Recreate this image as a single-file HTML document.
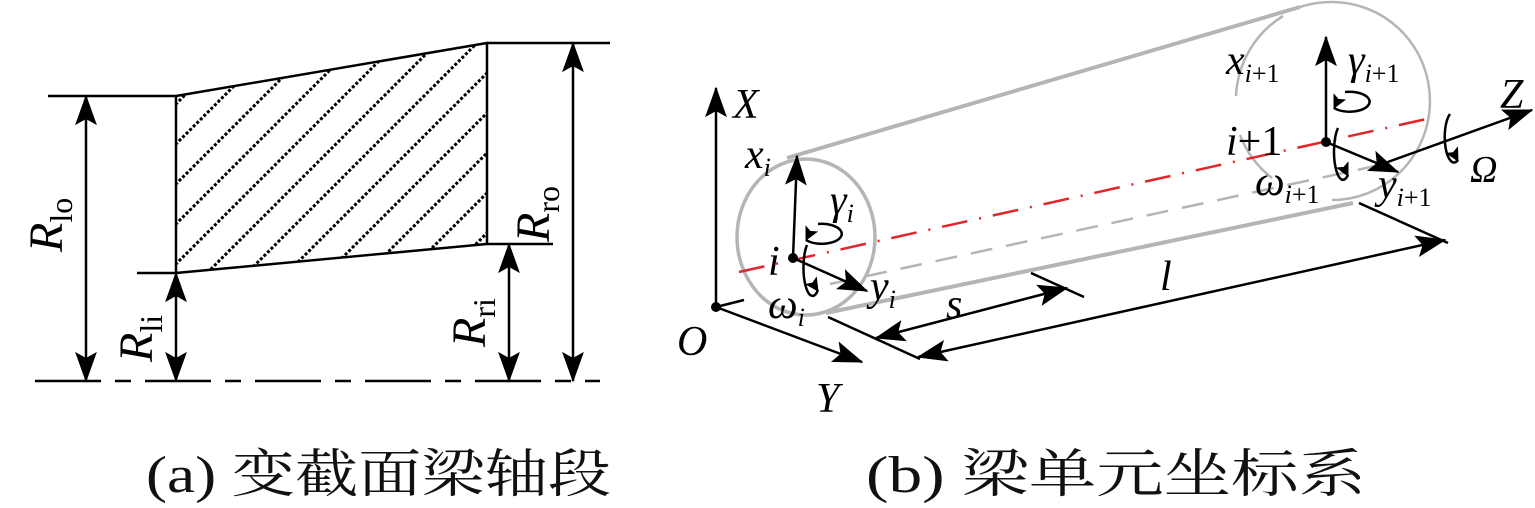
<!DOCTYPE html>
<html><head><meta charset="utf-8"><style>
html,body{margin:0;padding:0;background:#fff;}
svg{display:block;}
.t{font-family:"Liberation Serif","Noto Serif CJK SC",serif;font-style:italic;fill:#000;}
.c{font-family:"Liberation Serif","Noto Serif CJK SC",serif;fill:#111;}
</style></head><body>
<svg id="sv" width="1535" height="508" viewBox="0 0 1535 508" xmlns="http://www.w3.org/2000/svg">
<defs>
<clipPath id="tz"><polygon points="176,96 487,43 487,244 176,273"/></clipPath>
</defs>

<g clip-path="url(#tz)" stroke="#000" stroke-width="3" stroke-dasharray="3,2">
<line x1="140" y1="140" x2="260" y2="20"/>
<line x1="140" y1="180" x2="300" y2="20"/>
<line x1="140" y1="220" x2="340" y2="20"/>
<line x1="140" y1="260" x2="380" y2="20"/>
<line x1="140" y1="300" x2="420" y2="20"/>
<line x1="140" y1="340" x2="460" y2="20"/>
<line x1="140" y1="380" x2="500" y2="20"/>
<line x1="160" y1="400" x2="540" y2="20"/>
<line x1="200" y1="400" x2="580" y2="20"/>
<line x1="240" y1="400" x2="620" y2="20"/>
<line x1="280" y1="400" x2="660" y2="20"/>
<line x1="320" y1="400" x2="700" y2="20"/>
<line x1="360" y1="400" x2="740" y2="20"/>
<line x1="400" y1="400" x2="780" y2="20"/>
<line x1="440" y1="400" x2="820" y2="20"/>
</g>
<g stroke="#000" stroke-width="2.5" fill="none">
<polygon points="176,96 487,43 487,244 176,273"/>
<line x1="48" y1="96" x2="176" y2="96"/>
<line x1="487" y1="43" x2="610" y2="43"/>
<line x1="137" y1="273" x2="176" y2="273"/>
<line x1="487" y1="244" x2="553" y2="244"/>
<line x1="35" y1="381" x2="600" y2="381" stroke-dasharray="66,14,16,14"/>
</g>
<g class="t" font-size="48">
<text transform="translate(62,252) rotate(-90)">R<tspan font-style="normal" font-size="32" dy="10">lo</tspan></text>
<text transform="translate(152,362) rotate(-90)">R<tspan font-style="normal" font-size="32" dy="10">li</tspan></text>
<text transform="translate(485,347) rotate(-90)">R<tspan font-style="normal" font-size="32" dy="10">ri</tspan></text>
<text transform="translate(549,242) rotate(-90)">R<tspan font-style="normal" font-size="32" dy="10">ro</tspan></text>
</g>

<g fill="none" stroke="#b5b5b5">
<line x1="787" y1="158" x2="1300" y2="7" stroke-width="4"/>
<line x1="826" y1="313" x2="1353" y2="203" stroke-width="4"/>
<ellipse cx="806" cy="237" rx="69" ry="78" stroke-width="3.5"/>
<path d="M1300,7 A98,99 0 0 1 1332,2 A98,99 0 0 1 1332,200" stroke-width="2.5"/>
<path d="M1236,96 A98,99 0 0 1 1283,16" stroke-width="2.5"/>
<path d="M1240,135 A98,99 0 0 0 1272,178" stroke-width="2.5"/>
<line x1="830" y1="284" x2="1380" y2="165" stroke-width="2.5" stroke-dasharray="22,14"/>
</g>
<line x1="739" y1="272" x2="1431" y2="118" stroke="#e0262a" stroke-width="2.5" stroke-dasharray="26,12,2,12"/>
<g stroke="#000" stroke-width="2.5" fill="none">
<line x1="716" y1="307" x2="744" y2="300"/>
<line x1="828" y1="317" x2="920" y2="359"/>
<line x1="1031" y1="273" x2="1084" y2="297"/>
<line x1="1359" y1="203" x2="1448" y2="243"/>
<path d="M818,224 A20,10 0 1 1 806,240"/>
<path d="M807,245 A7,22 0 1 0 818,290"/>
<path d="M1345,92 A20,10 0 1 1 1334,108"/>
<path d="M1338,128 A7,22 0 1 0 1348,175"/>
<path d="M1450,114 A8,22 0 1 0 1458,160"/>
</g>
<g id="arr" stroke="#000" stroke-width="2.5" fill="#000"></g>
<circle cx="716" cy="307" r="5" fill="#000"/>
<circle cx="793" cy="258" r="5" fill="#000"/>
<circle cx="1326" cy="142" r="5" fill="#000"/>
<g class="t" font-size="42">
<text x="733" y="118">X</text>
<text x="816" y="412">Y</text>
<text x="677" y="355">O</text>
<text x="1500" y="108">Z</text>
<text x="1470" y="182" font-size="38">Ω</text>
<text x="745" y="168">x<tspan font-size="26" dy="8">i</tspan></text>
<text x="830" y="214">γ<tspan font-size="26" dy="8">i</tspan></text>
<text x="768" y="275">i</text>
<text x="870" y="300">y<tspan font-size="26" dy="8">i</tspan></text>
<text x="768" y="318">ω<tspan font-size="26" dy="8">i</tspan></text>
<text x="946" y="318">s</text>
<text x="1160" y="290">l</text>
<text x="1226" y="74">x<tspan font-size="26" dy="8">i</tspan><tspan font-size="26" font-style="normal">+1</tspan></text>
<text x="1348" y="74">γ<tspan font-size="26" dy="8">i</tspan><tspan font-size="26" font-style="normal">+1</tspan></text>
<text x="1226" y="155">i<tspan font-style="normal">+1</tspan></text>
<text x="1255" y="195">ω<tspan font-size="26" dy="8">i</tspan><tspan font-size="26" font-style="normal">+1</tspan></text>
<text x="1378" y="198">y<tspan font-size="26" dy="8">i</tspan><tspan font-size="26" font-style="normal">+1</tspan></text>
</g>

<text class="c" x="146" y="492" font-size="52" textLength="465" lengthAdjust="spacingAndGlyphs">(a) 变截面梁轴段</text>
<text class="c" x="866" y="492" font-size="52" textLength="500" lengthAdjust="spacingAndGlyphs">(b) 梁单元坐标系</text>
</svg>
<script>
(function(){
var g=document.getElementById('arr'),NS='http://www.w3.org/2000/svg';
function head(x1,y1,x2,y2,L,W){var dx=x2-x1,dy=y2-y1,d=Math.hypot(dx,dy),ux=dx/d,uy=dy/d,px=-uy,py=ux;
var bx=x2-ux*L,by=y2-uy*L,nx=x2-ux*L*0.8,ny=y2-uy*L*0.8;
var p=document.createElementNS(NS,'polygon');
p.setAttribute('points',[x2,y2,bx+px*W,by+py*W,nx,ny,bx-px*W,by-py*W].join(' '));
p.setAttribute('fill','#000');p.setAttribute('stroke','#000');p.setAttribute('stroke-width','1');p.setAttribute('stroke-linejoin','miter');g.appendChild(p);}
function ln(x1,y1,x2,y2,s,e,L,W){L=L||28;W=W||10;var l=document.createElementNS(NS,'line');
l.setAttribute('x1',x1);l.setAttribute('y1',y1);l.setAttribute('x2',x2);l.setAttribute('y2',y2);g.appendChild(l);
if(e)head(x1,y1,x2,y2,L,W);if(s)head(x2,y2,x1,y1,L,W);}
ln(86,96,86,381,1,1);ln(176,273,176,381,1,1);ln(509,244,509,381,1,1);ln(573,43,573,381,1,1);
ln(716,307,716,88,0,1);ln(716,307,862,362,0,1);ln(1385,163,1532,110,0,1);
ln(793,258,797,156,0,1);ln(793,258,867,291,0,1);
ln(1326,142,1326,37,0,1);ln(1326,142,1398,172,0,1);
ln(876,338,1067,288,1,1);ln(918,357,1445,240,1,1);
head(812,228,806,240,12,6);head(812,282,818,291,12,6);head(1340,96,1334,108,12,6);head(1343,166,1348,176,12,6);head(1452,150,1458,161,12,6);
})();
</script>
</body></html>
